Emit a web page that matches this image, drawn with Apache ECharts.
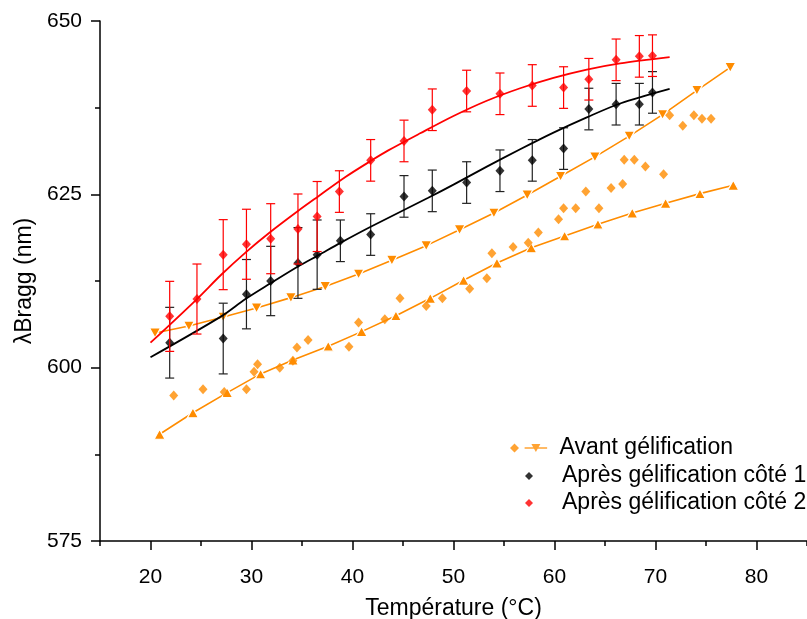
<!DOCTYPE html>
<html>
<head>
<meta charset="utf-8">
<script src="https://cdn.jsdelivr.net/npm/echarts@6/dist/echarts.min.js"></script>
<style>
html,body{margin:0;padding:0;background:#fff;}
#chart{width:807px;height:619px;}
</style>
</head>
<body>
<div id="chart"></div>
<script>
// ---- data ----
var xTicks = [20, 30, 40, 50, 60, 70, 80];
var yTicks = [575, 600, 625, 650];

// Avant gélification : raw points (diamonds)
var avantX = [22.3, 25.2, 27.3, 29.5, 30.25, 30.6, 32.8, 34.1, 34.5, 35.6, 39.65, 40.6, 43.2, 44.7, 47.3, 48.9, 51.6, 53.3, 53.8, 55.9, 57.4, 58.4, 60.4, 60.9, 62.1, 63.1, 64.4, 65.6, 66.75, 66.9, 67.9, 69.0, 70.8, 71.4, 72.7, 73.8, 74.6, 75.5];
var avantY = [596.0, 596.9, 596.5, 596.9, 599.4, 600.5, 600.0, 601.0, 602.9, 604.0, 603.0, 606.5, 607.0, 610.0, 608.9, 610.0, 611.4, 612.9, 616.5, 617.4, 618.0, 619.5, 621.4, 623.0, 623.0, 625.4, 623.0, 625.9, 626.5, 630.0, 630.0, 629.0, 627.9, 636.4, 634.9, 636.4, 635.9, 635.9];

// Avant gélification : upper curve (down triangles)
var downX = [20.45, 23.8, 27.2, 30.5, 33.9, 37.3, 40.6, 43.9, 47.3, 50.6, 54.0, 57.3, 60.6, 64.0, 67.4, 70.7, 74.1, 77.4];
var downY = [605.0, 606.0, 607.3, 608.6, 610.1, 611.7, 613.5, 615.5, 617.6, 619.9, 622.3, 624.9, 627.6, 630.4, 633.4, 636.5, 640.0, 643.3];

// Avant gélification : lower curve (up triangles)
var upX = [20.9, 24.2, 27.6, 30.9, 34.1, 37.6, 40.9, 44.3, 47.7, 51.0, 54.3, 57.7, 61.0, 64.3, 67.7, 71.0, 74.4, 77.7];
var upY = [590.4, 593.5, 596.4, 599.1, 601.1, 603.1, 605.2, 607.5, 610.0, 612.6, 615.1, 617.3, 619.0, 620.7, 622.3, 623.7, 625.1, 626.3];

// Après gélification côté 1 (black)
var blackX = [21.9, 27.2, 29.5, 31.9, 34.6, 36.5, 38.8, 41.8, 45.1, 47.9, 51.3, 54.6, 57.8, 60.9, 63.4, 66.1, 68.4, 69.7];
var blackY = [603.6, 604.2, 610.6, 612.5, 615.1, 616.3, 618.3, 619.2, 624.7, 625.5, 626.7, 628.4, 629.9, 631.6, 637.3, 638.0, 638.0, 639.7];
var blackErr = [5.1, 5.1, 5.0, 5.0, 5.1, 5.0, 3.0, 3.0, 3.0, 3.0, 3.0, 3.0, 3.0, 3.0, 3.0, 3.0, 3.0, 3.0];
var blackFitX = [20.0, 27.0, 29.4, 31.8, 34.6, 36.6, 38.8, 41.9, 47.5, 50.0, 53.3, 56.6, 59.9, 63.2, 66.5, 71.4];
var blackFitY = [601.5, 607.4, 609.9, 612.1, 614.6, 616.2, 618.0, 620.4, 624.5, 626.4, 629.0, 631.5, 633.9, 636.1, 638.1, 640.2];

// Après gélification côté 2 (red)
var redX = [21.9, 24.6, 27.2, 29.5, 31.9, 34.6, 36.5, 38.7, 41.8, 45.1, 47.9, 51.3, 54.6, 57.8, 60.9, 63.4, 66.1, 68.4, 69.7];
var redY = [607.4, 609.9, 616.3, 617.8, 618.6, 620.0, 621.8, 625.4, 629.9, 632.7, 637.2, 639.9, 639.5, 640.7, 640.4, 641.6, 644.4, 644.9, 645.0];
var redErr = [5.05, 5.05, 5.05, 5.05, 5.05, 5.05, 5.05, 3.0, 3.0, 3.0, 3.0, 3.0, 3.0, 3.0, 3.0, 3.0, 3.0, 3.0, 3.0];
var redFitX = [20.0, 24.6, 27.0, 29.4, 31.8, 34.6, 36.6, 39.3, 41.9, 43.5, 46.7, 50.0, 53.3, 56.6, 59.9, 63.2, 66.5, 71.4];
var redFitY = [603.6, 609.9, 613.4, 616.6, 619.5, 622.6, 624.7, 627.5, 629.9, 631.3, 633.8, 636.3, 638.5, 640.3, 641.8, 643.0, 643.9, 644.8];

var seriesNames = ['Avant gélification', 'Après gélification côté 1', 'Après gélification côté 2'];
var ORANGE = '#ff8c00', RED = '#ff0000', BLACK = '#000000';
var FONT = 'Liberation Sans, Arial, Helvetica, sans-serif';

function zip(a, b) { return a.map(function (v, i) { return [v, b[i]]; }); }
function zip3(a, b, c) { return a.map(function (v, i) { return [v, b[i], c[i]]; }); }

function errorBar(color) {
  return function (params, api) {
    var x = api.value(0), y = api.value(1), e = api.value(2);
    var t = api.coord([x, y + e]);
    var b = api.coord([x, y - e]);
    var hw = 4.5;
    var st = { stroke: color, lineWidth: 1.2 };
    return {
      type: 'group',
      children: [
        { type: 'line', shape: { x1: t[0], y1: t[1], x2: b[0], y2: b[1] }, style: st },
        { type: 'line', shape: { x1: t[0] - hw, y1: t[1], x2: t[0] + hw, y2: t[1] }, style: st },
        { type: 'line', shape: { x1: b[0] - hw, y1: b[1], x2: b[0] + hw, y2: b[1] }, style: st }
      ]
    };
  };
}

var legendIconAvant = 'path://M0,4L4,0L8,4L4,8Z M13,3.4L33,3.4L33,4.6L13,4.6Z M19,0.4L27,0.4L23,7.6Z';

var chart = echarts.init(document.getElementById('chart'), null, { renderer: 'canvas' });
chart.setOption({
  animation: false,
  backgroundColor: '#ffffff',
  textStyle: { fontFamily: FONT },
  grid: { left: 100, right: 0, top: 21, bottom: 78, containLabel: false, outerBoundsMode: 'none' },
  legend: [
    {
      left: 505, top: 430, orient: 'vertical',
      itemWidth: 42, itemHeight: 9, itemGap: 1,
      data: [{ name: seriesNames[0], icon: legendIconAvant }],
      textStyle: { fontSize: 23, color: '#000', fontFamily: FONT, lineHeight: 26, padding: [0, 0, 0, 5] },
      selectedMode: false
    },
    {
      left: 520, top: 458, orient: 'vertical',
      itemWidth: 8, itemHeight: 8, itemGap: 1,
      data: [{ name: seriesNames[1], icon: 'diamond' }, { name: seriesNames[2], icon: 'diamond' }],
      textStyle: { fontSize: 23, color: '#000', fontFamily: FONT, lineHeight: 26, padding: [0, 0, 0, 24] },
      selectedMode: false
    }
  ],
  xAxis: [
    {
      type: 'value', min: 15, max: 85, position: 'bottom',
      name: 'Température (°C)', nameLocation: 'middle', nameGap: 56,
      nameTextStyle: { fontSize: 23, color: '#000', fontFamily: FONT },
      axisLine: { show: true, onZero: false, lineStyle: { color: '#000', width: 1.5 } },
      axisTick: { show: true, length: 9, customValues: xTicks, lineStyle: { color: '#000', width: 1.5 } },
      axisLabel: { customValues: xTicks, fontSize: 21, color: '#000', margin: 26, fontFamily: FONT },
      splitLine: { show: false }
    },
    {
      type: 'value', min: 15, max: 85, interval: 10, position: 'bottom',
      axisLine: { show: false },
      axisTick: { show: true, length: 5, lineStyle: { color: '#000', width: 1.5 } },
      axisLabel: { show: false },
      splitLine: { show: false }
    }
  ],
  yAxis: [
    {
      type: 'value', min: 575, max: 650, interval: 25,
      name: 'λBragg (nm)', nameLocation: 'middle', nameGap: 60, nameRotate: 90,
      nameTextStyle: { fontSize: 23, color: '#000', fontFamily: FONT },
      axisLine: { show: true, onZero: false, lineStyle: { color: '#000', width: 1.5 } },
      axisTick: { show: true, length: 9, lineStyle: { color: '#000', width: 1.5 } },
      minorTick: { show: true, splitNumber: 2, length: 5, lineStyle: { color: '#000', width: 1.5 } },
      axisLabel: { fontSize: 21, color: '#000', margin: 18, fontFamily: FONT,
        customValues: yTicks },
      splitLine: { show: false }
    }
  ],
  series: [
    {
      name: 'Avant gélification (montée)', type: 'line', data: zip(downX, downY),
      xAxisIndex: 0, symbol: 'triangle', symbolRotate: 180, symbolSize: [11, 10],
      lineStyle: { color: ORANGE, width: 1.6 },
      itemStyle: { color: ORANGE, borderColor: '#fff', borderWidth: 1.2 }, z: 2
    },
    {
      name: 'Avant gélification (descente)', type: 'line', data: zip(upX, upY),
      xAxisIndex: 0, symbol: 'triangle', symbolSize: [11, 10],
      lineStyle: { color: ORANGE, width: 1.6 },
      itemStyle: { color: ORANGE, borderColor: '#fff', borderWidth: 1.2 }, z: 2
    },
    {
      name: seriesNames[0], type: 'scatter', data: zip(avantX, avantY),
      xAxisIndex: 0, symbol: 'diamond', symbolSize: [9, 10],
      itemStyle: { color: ORANGE }, z: 3
    },
    {
      name: 'err1', type: 'custom', data: zip3(blackX, blackY, blackErr),
      xAxisIndex: 0, encode: { x: 0, y: 1 }, renderItem: errorBar('#222'), z: 4
    },
    {
      name: 'fit1', type: 'line', data: zip(blackFitX, blackFitY), xAxisIndex: 0,
      showSymbol: false, smooth: 0.3, lineStyle: { color: BLACK, width: 1.8 }, z: 4
    },
    {
      name: seriesNames[1], type: 'scatter', data: zip(blackX, blackY),
      xAxisIndex: 0, symbol: 'diamond', symbolSize: [9, 10],
      itemStyle: { color: BLACK }, z: 5
    },
    {
      name: 'err2', type: 'custom', data: zip3(redX, redY, redErr),
      xAxisIndex: 0, encode: { x: 0, y: 1 }, renderItem: errorBar(RED), z: 6
    },
    {
      name: 'fit2', type: 'line', data: zip(redFitX, redFitY), xAxisIndex: 0,
      showSymbol: false, smooth: 0.3, lineStyle: { color: RED, width: 1.8 }, z: 6
    },
    {
      name: seriesNames[2], type: 'scatter', data: zip(redX, redY),
      xAxisIndex: 0, symbol: 'diamond', symbolSize: [9, 10],
      itemStyle: { color: RED }, z: 7
    }
  ]
});
</script>
</body>
</html>
